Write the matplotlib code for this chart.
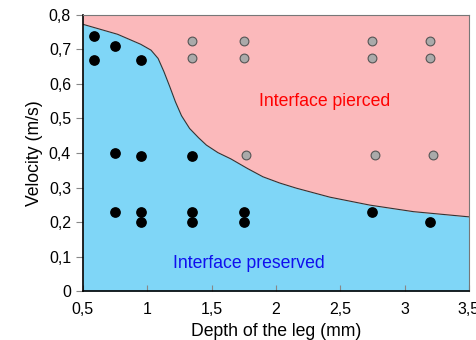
import matplotlib.pyplot as plt
from matplotlib.ticker import FuncFormatter

plt.rcParams['font.family'] = ['Liberation Sans', 'DejaVu Sans']

# boundary curve between the two regimes
curve_x = [0.5, 0.77, 0.95, 1.03, 1.085, 1.13, 1.176, 1.22, 1.267, 1.33, 1.40, 1.46, 1.55, 1.65, 1.78, 1.9, 2.03, 2.16, 2.42, 2.73, 3.07, 3.5]
curve_y = [0.773, 0.744, 0.715, 0.698, 0.674, 0.636, 0.592, 0.548, 0.508, 0.471, 0.444, 0.423, 0.401, 0.383, 0.355, 0.331, 0.313, 0.298, 0.272, 0.249, 0.23, 0.215]

# preserved (black) points
kept_x = [0.585, 0.585, 0.75, 0.95, 0.75, 0.95, 1.35, 0.75, 0.95, 0.95, 1.35, 1.35, 1.75, 1.75, 2.75, 3.2]
kept_y = [0.74, 0.67, 0.71, 0.67, 0.40, 0.39, 0.39, 0.23, 0.23, 0.20, 0.23, 0.20, 0.23, 0.20, 0.23, 0.20]

# pierced (gray) points
pierced_x = [1.35, 1.35, 1.75, 1.75, 2.75, 2.75, 3.2, 3.2, 1.77, 2.77, 3.22]
pierced_y = [0.724, 0.676, 0.724, 0.676, 0.724, 0.676, 0.724, 0.676, 0.393, 0.393, 0.393]

fig = plt.figure(figsize=(4.76, 3.40), dpi=100)
ax = fig.add_axes([0.174, 0.144, 0.811, 0.812])

ax.fill_between(curve_x, 0, curve_y, color='#7fd6f7', lw=0)
ax.fill_between(curve_x, curve_y, 0.8, color='#fbb9bb', lw=0)
ax.plot(curve_x, curve_y, color='#333333', lw=0.8)

ax.scatter(kept_x, kept_y, s=45, color='black', zorder=3)
ax.scatter(pierced_x, pierced_y, s=40, color='#aaaaaa', edgecolor='#555555', linewidth=0.8, zorder=3)

ax.text(2.38, 0.55, 'Interface pierced', color='red', fontsize=12.7, ha='center', va='center')
ax.text(1.79, 0.08, 'Interface preserved', color='#1010ee', fontsize=12.7, ha='center', va='center')

ax.set_xlim(0.5, 3.5)
ax.set_ylim(0, 0.8)
ax.set_xticks([0.5, 1, 1.5, 2, 2.5, 3, 3.5])
ax.set_yticks([0, 0.1, 0.2, 0.3, 0.4, 0.5, 0.6, 0.7, 0.8])
comma = FuncFormatter(lambda v, p: ('%g' % round(v, 2)).replace('.', ','))
ax.xaxis.set_major_formatter(comma)
ax.yaxis.set_major_formatter(comma)
ax.tick_params(axis='x', direction='in', length=4, color='#888888', labelsize=11.5, pad=8)
ax.tick_params(axis='y', direction='out', length=5, color='#888888', labelsize=11.5)

for s in ['top', 'right']:
    ax.spines[s].set_color('#777777')
for s in ['left', 'bottom']:
    ax.spines[s].set_color('black')
    ax.spines[s].set_linewidth(1.2)

ax.set_xlabel('Depth of the leg (mm)', fontsize=12.7)
ax.set_ylabel('Velocity (m/s)', fontsize=12.7)

fig.savefig('out.png', dpi=100)
